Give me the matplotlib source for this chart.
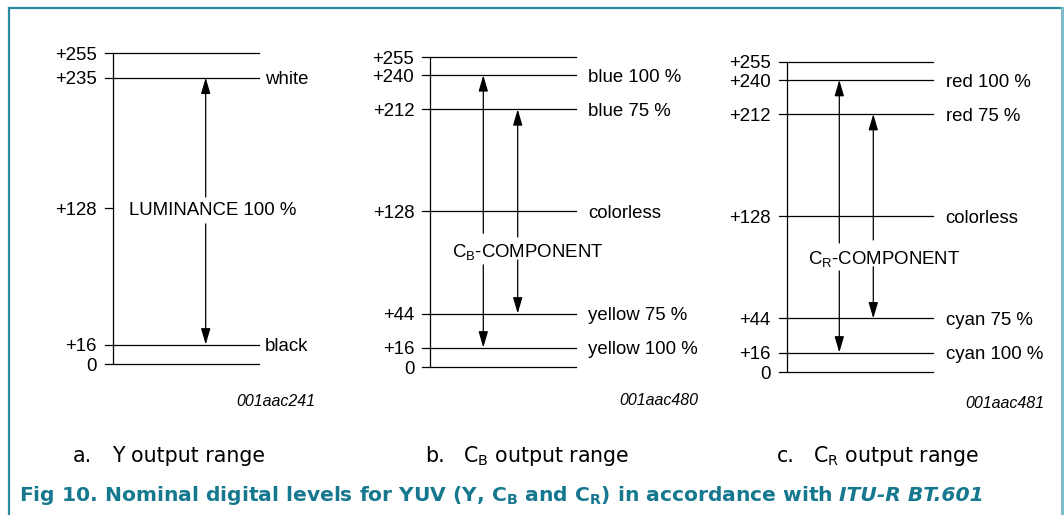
import matplotlib
matplotlib.use('Agg')
import matplotlib.pyplot as plt
from matplotlib.lines import Line2D

plt.rcParams['font.family'] = ['Liberation Sans', 'DejaVu Sans']
plt.rcParams['mathtext.default'] = 'regular'

# ---------------- data ----------------
y_levels = [255, 235, 128, 16, 0]
y_level_labels = ['+255', '+235', '+128', '+16', '0']
y_names = ['', 'white', '', 'black', '']
y_full_line = [True, True, False, True, True]
y_arrows = [(16, 235)]
y_component = 'LUMINANCE 100 %'

cb_levels = [255, 240, 212, 128, 44, 16, 0]
cb_level_labels = ['+255', '+240', '+212', '+128', '+44', '+16', '0']
cb_names = ['', 'blue 100 %', 'blue 75 %', 'colorless', 'yellow 75 %', 'yellow 100 %', '']
cb_full_line = [True] * 7
cb_arrows = [(16, 240), (44, 212)]
cb_component = 'C$_{B}$-COMPONENT'

cr_levels = [255, 240, 212, 128, 44, 16, 0]
cr_level_labels = ['+255', '+240', '+212', '+128', '+44', '+16', '0']
cr_names = ['', 'red 100 %', 'red 75 %', 'colorless', 'cyan 75 %', 'cyan 100 %', '']
cr_full_line = [True] * 7
cr_arrows = [(16, 240), (44, 212)]
cr_component = 'C$_{R}$-COMPONENT'

codes = ['001aac241', '001aac480', '001aac481']
caption_letters = ['a.', 'b.', 'c.']
caption_texts = ['Y output range', 'C$_{B}$ output range', 'C$_{R}$ output range']
title_main = 'Fig 10. Nominal digital levels for YUV (Y, C$_{B}$ and C$_{R}$) in accordance with'
title_italic = 'ITU-R BT.601'

# ---------------- layout (pixels) ----------------
W, H = 1064, 515
TEAL = '#16788f'
BORDER = '#2a8ca2'
FS = 13.4
CAP_FAMILY = ['DejaVu Sans']

fig = plt.figure(figsize=(W / 100, H / 100), dpi=100)


def px_ax(left, top_px, bottom_px, width=146):
    ax = fig.add_axes([left / W, 1 - bottom_px / H, width / W, (bottom_px - top_px) / H])
    ax.set_xlim(0, width)
    ax.set_ylim(0, 255)
    ax.axis('off')
    return ax


def draw_panel(ax, levels, labels, names, full, arrows, arrow_x, gaps,
               comp, comp_x, comp_y, name_dx):
    lw = 0.9
    ax.plot([0, 0], [0, 255], color='black', lw=lw, clip_on=False)
    for lv, lab, nm, fl in zip(levels, labels, names, full):
        x1 = 146 if fl else 0
        ax.plot([-8, x1], [lv, lv], color='black', lw=lw, clip_on=False)
        ax.annotate(lab, xy=(0, lv), xytext=(-16, -6.6), textcoords='offset pixels',
                    ha='right', va='baseline', fontsize=FS)
        if nm:
            ax.annotate(nm, xy=(146, lv), xytext=(name_dx, -6.6), textcoords='offset pixels',
                        ha='left', va='baseline', fontsize=FS)
    for (lo, hi), x, (glo, ghi) in zip(arrows, arrow_x, gaps):
        style = dict(arrowstyle='-|>,head_length=0.75,head_width=0.22', lw=lw,
                     color='black', shrinkA=0, shrinkB=0, mutation_scale=13)
        ax.annotate('', xy=(x, hi), xytext=(x, ghi), arrowprops=style, annotation_clip=False)
        ax.annotate('', xy=(x, lo), xytext=(x, glo), arrowprops=style, annotation_clip=False)
    ax.annotate(comp, xy=(comp_x, comp_y), xytext=(0, -6.6), textcoords='offset pixels',
                ha='left', va='baseline', fontsize=FS)


ax_a = px_ax(112.7, 53.3, 364)
draw_panel(ax_a, y_levels, y_level_labels, y_names, y_full_line, y_arrows,
           [93], [(115, 137)], y_component, 16.3, 128, 6)

ax_b = px_ax(430.3, 57, 367)
draw_panel(ax_b, cb_levels, cb_level_labels, cb_names, cb_full_line, cb_arrows,
           [53, 87.4], [(84, 110), (88, 107)], cb_component, 21.4, 96, 12)

ax_c = px_ax(786.7, 61.7, 372)
draw_panel(ax_c, cr_levels, cr_level_labels, cr_names, cr_full_line, cr_arrows,
           [52.6, 86.6], [(83, 106), (86.5, 108.5)], cr_component, 21.3, 94, 13)

# figure codes
for code, (xr, yb) in zip(codes, [(315, 406), (698, 405), (1044, 408)]):
    fig.text(xr / W, 1 - yb / H, code, ha='right', va='baseline', fontsize=11.5,
             style='italic')

# captions
for letter, txt, xl, xt in zip(caption_letters, caption_texts,
                               [73, 425, 776.7], [111.7, 463.3, 813.3]):
    fig.text(xl / W, 1 - 462 / H, letter, ha='left', va='baseline', fontsize=14.8,
             family=CAP_FAMILY)
    fig.text(xt / W, 1 - 462 / H, txt, ha='left', va='baseline', fontsize=14.8,
             family=CAP_FAMILY)

# title
t1 = fig.text(19 / W, 1 - 501 / H, title_main, ha='left', va='baseline', fontsize=14.6,
              fontweight='bold', color=TEAL, family=CAP_FAMILY)
fig.canvas.draw()
bb = t1.get_window_extent(renderer=fig.canvas.get_renderer())
fig.text((bb.x1 + 6) / W, 1 - 501 / H, title_italic, ha='left', va='baseline', fontsize=14.6,
         fontweight='bold', style='italic', color=TEAL, family=CAP_FAMILY)

# frame
fig.add_artist(Line2D([9 / W, 1062 / W], [1 - 8 / H, 1 - 8 / H], color=BORDER, lw=1.6))
fig.add_artist(Line2D([9 / W, 9 / W], [1 - 8 / H, 0], color=BORDER, lw=1.6))
fig.add_artist(Line2D([1062 / W, 1062 / W], [1 - 8 / H, 0], color='#7fbccb', lw=2.2))

fig.savefig('out.png', dpi=100)
